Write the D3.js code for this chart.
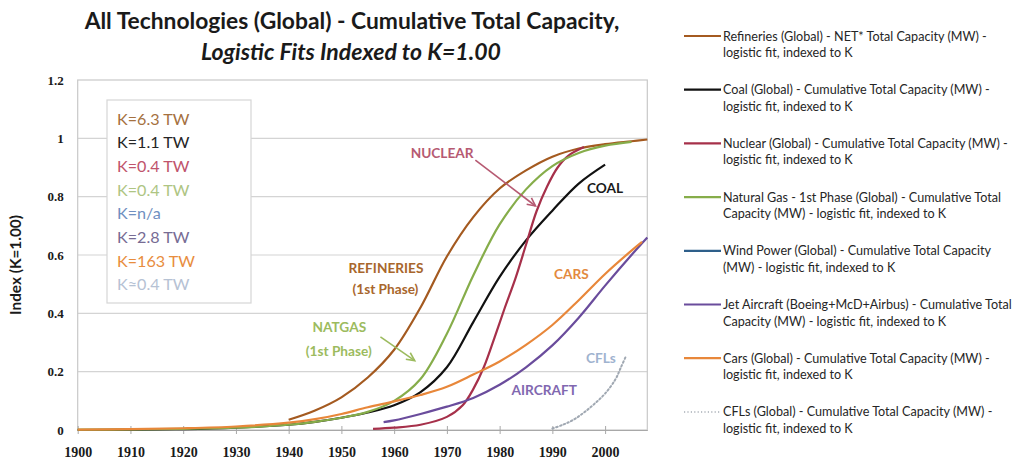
<!DOCTYPE html>
<html><head><meta charset="utf-8">
<script src="https://cdn.jsdelivr.net/npm/d3@7/dist/d3.min.js"></script>
<style>html,body{margin:0;padding:0;background:#fff;}svg{display:block;}</style>
</head><body>
<svg id="chart" width="1015" height="459"></svg>
<script>
// ---------- DATA ----------
const refineriesYears  = [1940,1945,1950,1955,1960,1965,1970,1975,1980,1985,1990,1995,2000,2005,2008];
const refineriesValues = [0.035,0.067,0.112,0.18,0.275,0.42,0.595,0.73,0.828,0.89,0.937,0.965,0.98,0.99,0.996];

const coalYears  = [1900,1910,1920,1930,1940,1945,1950,1955,1960,1965,1970,1975,1980,1985,1990,1995,2000];
const coalValues = [0.0,0.001,0.003,0.008,0.018,0.028,0.042,0.06,0.085,0.13,0.215,0.37,0.525,0.65,0.752,0.845,0.91];

const nuclearYears  = [1956,1960,1965,1970,1973,1975,1977,1979,1981,1983,1985,1987,1989,1991,1993,1996];
const nuclearValues = [0.004,0.008,0.018,0.045,0.085,0.14,0.215,0.315,0.42,0.52,0.635,0.75,0.835,0.9,0.94,0.97];

const natgasYears  = [1900,1910,1920,1930,1940,1945,1950,1955,1960,1965,1970,1975,1980,1985,1990,1995,2000,2005];
const natgasValues = [0.001,0.002,0.004,0.008,0.018,0.028,0.042,0.062,0.1,0.175,0.33,0.53,0.705,0.825,0.905,0.95,0.975,0.988];

const aircraftYears  = [1958,1960,1965,1970,1975,1980,1985,1990,1995,2000,2005,2008];
const aircraftValues = [0.027,0.033,0.055,0.08,0.11,0.155,0.215,0.29,0.385,0.495,0.6,0.66];

const carsYears  = [1900,1910,1920,1930,1940,1945,1950,1955,1960,1965,1970,1975,1980,1985,1990,1995,2000,2005,2007];
const carsValues = [0.001,0.003,0.006,0.012,0.025,0.037,0.055,0.078,0.098,0.12,0.148,0.19,0.235,0.292,0.36,0.445,0.535,0.615,0.645];

const cflYears  = [1990,1992,1994,1996,1998,2000,2002,2003,2004];
const cflValues = [0.005,0.018,0.035,0.06,0.09,0.125,0.175,0.215,0.255];

const yTicks = [0,0.2,0.4,0.6,0.8,1,1.2];
const yTickLabels = ["0","0.2","0.4","0.6","0.8","1","1.2"];
const xTicks = [1900,1910,1920,1930,1940,1950,1960,1970,1980,1990,2000];

const seriesNames = ["Refineries","Coal","Nuclear","Natural Gas","Wind Power","Jet Aircraft","Cars","CFLs"];
const seriesColors = ["#a45a20","#111111","#a6304a","#86ad4a","#2e5f8a","#6a4c9c","#e8873a","#a0a8b2"];
const legendLine1 = [
  "Refineries (Global) - NET* Total Capacity (MW) -",
  "Coal (Global) - Cumulative Total Capacity (MW) -",
  "Nuclear (Global) - Cumulative Total Capacity (MW) -",
  "Natural Gas - 1st Phase (Global) - Cumulative Total",
  "Wind Power (Global) - Cumulative Total Capacity",
  "Jet Aircraft (Boeing+McD+Airbus) - Cumulative Total",
  "Cars (Global) - Cumulative Total Capacity (MW) -",
  "CFLs (Global) - Cumulative Total Capacity (MW) -"
];
const legendLine2 = [
  "logistic fit, indexed to K",
  "logistic fit, indexed to K",
  "logistic fit, indexed to K",
  "Capacity (MW) - logistic fit, indexed to K",
  "(MW) - logistic fit, indexed to K",
  "Capacity (MW) - logistic fit, indexed to K",
  "logistic fit, indexed to K",
  "logistic fit, indexed to K"
];
const kLabels = ["K=6.3 TW","K=1.1 TW","K=0.4 TW","K=0.4 TW","K=n/a","K=2.8 TW","K=163 TW","K\u22480.4 TW"];
const kColors = ["#a5713f","#262626","#c0546c","#aec583","#6f8fc0","#776c94","#e88d3e","#b6c2d4"];

// ---------- LAYOUT ----------
const svg = d3.select("#chart");
const x = d3.scaleLinear().domain([1900, 2008]).range([77.7, 647.3]);
const y = d3.scaleLinear().domain([0, 1.2]).range([430, 80]);
const calibri = "Lato, 'Open Sans', sans-serif";
const cambria = "'Liberation Serif', 'DejaVu Serif', serif";

function fit(sel, width) {
  const w = sel.node().getComputedTextLength();
  const fs = parseFloat(sel.attr("font-size"));
  sel.attr("font-size", (fs * width / w).toFixed(2));
  return sel;
}

// Title
fit(svg.append("text").attr("x", 352).attr("y", 20).attr("text-anchor", "middle")
  .attr("dominant-baseline", "central").attr("font-family", calibri).attr("font-weight", "bold")
  .attr("font-size", 20).attr("fill", "#1a1a1a")
  .text("All Technologies (Global) - Cumulative Total Capacity,"), 535);
fit(svg.append("text").attr("x", 351).attr("y", 51).attr("text-anchor", "middle")
  .attr("dominant-baseline", "central").attr("font-family", calibri).attr("font-weight", "bold")
  .attr("font-style", "italic").attr("font-size", 20).attr("fill", "#1a1a1a")
  .text("Logistic Fits Indexed to K=1.00"), 300);

// Gridlines
svg.append("g").selectAll("line").data(yTicks.filter(d => d > 0 && d < 1.2)).join("line")
  .attr("x1", x.range()[0]).attr("x2", x.range()[1])
  .attr("y1", d => y(d)).attr("y2", d => y(d))
  .attr("stroke", "#d4d4d4").attr("stroke-width", 1.2);

// Plot border
svg.append("rect").attr("x", x.range()[0]).attr("y", y(1.2))
  .attr("width", x.range()[1] - x.range()[0]).attr("height", y(0) - y(1.2))
  .attr("fill", "none").attr("stroke", "#c8c8c8").attr("stroke-width", 1.2);

// X axis
const xAxis = d3.axisBottom(x).tickValues(xTicks).tickFormat(d3.format("d")).tickSizeInner(4).tickSizeOuter(0);
const gx = svg.append("g").attr("transform", `translate(0,${y(0)})`).call(xAxis);
gx.select(".domain").attr("stroke", "#a8a8a8").attr("stroke-width", 1.2);
gx.selectAll(".tick line").attr("stroke", "#a8a8a8").attr("y1", -4).attr("y2", 4);
gx.selectAll(".tick text").attr("y", 22).attr("dy", "0.35em").attr("font-family", cambria)
  .attr("font-weight", "bold").attr("font-size", 14).attr("fill", "#1a1a1a");

// Y axis labels
const yAxis = d3.axisLeft(y).tickValues(yTicks).tickFormat((d, i) => yTickLabels[i]).tickSize(0);
const gy = svg.append("g").attr("transform", `translate(${x.range()[0]},0)`).call(yAxis);
gy.select(".domain").remove();
gy.selectAll(".tick text").attr("x", -14).attr("font-family", cambria).attr("font-weight", "bold")
  .attr("font-size", 13).attr("fill", "#1a1a1a");

// Y axis title
fit(svg.append("text").attr("transform", "translate(15,265) rotate(-90)").attr("text-anchor", "middle")
  .attr("dominant-baseline", "central").attr("font-family", calibri).attr("font-weight", "bold")
  .attr("font-size", 11).attr("fill", "#1a1a1a").text("Index (K=1.00)"), 100);

// Series
const seriesYears = [refineriesYears, coalYears, nuclearYears, natgasYears, [], aircraftYears, carsYears, cflYears];
const seriesValues = [refineriesValues, coalValues, nuclearValues, natgasValues, [], aircraftValues, carsValues, cflValues];
const line = d3.line().x(d => x(d[0])).y(d => y(d[1])).curve(d3.curveCatmullRom.alpha(0.5));
const gs = svg.append("g");
seriesNames.forEach((name, i) => {
  const pts = seriesYears[i].map((yr, j) => [yr, seriesValues[i][j]]);
  if (!pts.length) return;
  const p = gs.append("path").datum(pts).attr("d", line).attr("fill", "none")
    .attr("stroke", seriesColors[i]).attr("stroke-width", 2.2).attr("stroke-linejoin", "round");
  if (name === "CFLs") p.attr("stroke-dasharray", "1.6,2.4").attr("stroke-width", 2).attr("stroke-linecap", "round");
});

// K box
svg.append("rect").attr("x", 107).attr("y", 100).attr("width", 144).attr("height", 203)
  .attr("fill", "#fff").attr("stroke", "#d6d6d6").attr("stroke-width", 1.2);
const kText = svg.append("g").selectAll("text").data(kLabels).join("text")
  .attr("x", 117).attr("y", (d, i) => 118 + i * 23.7).attr("dominant-baseline", "central")
  .attr("font-family", calibri).attr("font-size", 16).attr("fill", (d, i) => kColors[i]).text(d => d);
const kw = kText.filter((d, i) => i === 0).node().getComputedTextLength();
kText.attr("font-size", (16 * 72.5 / kw).toFixed(2));

// Annotations (positioned in data space), one common font size
const probe = svg.append("text").attr("font-family", calibri).attr("font-weight", "bold")
  .attr("font-size", 13).text("REFINERIES");
const annFs = 13 * 75 / probe.node().getComputedTextLength();
probe.remove();
function label(txt, yr, v, color) {
  return svg.append("text").attr("x", x(yr)).attr("y", y(v)).attr("text-anchor", "middle")
    .attr("dominant-baseline", "central").attr("font-family", calibri).attr("font-weight", "bold")
    .attr("font-size", annFs.toFixed(2)).attr("fill", color).text(txt);
}
function arrow(y0, v0, y1, v1, color) {
  const x0 = x(y0), yy0 = y(v0), x1 = x(y1), yy1 = y(v1);
  svg.append("line").attr("x1", x0).attr("y1", yy0).attr("x2", x1).attr("y2", yy1)
    .attr("stroke", color).attr("stroke-width", 1.6);
  const ang = Math.atan2(yy1 - yy0, x1 - x0), L = 9, a = 0.45;
  const p1 = [x1 - L * Math.cos(ang - a), yy1 - L * Math.sin(ang - a)];
  const p2 = [x1 - L * Math.cos(ang + a), yy1 - L * Math.sin(ang + a)];
  svg.append("path").attr("d", `M${p1}L${x1},${yy1}L${p2}`).attr("fill", "none")
    .attr("stroke", color).attr("stroke-width", 1.6).attr("stroke-linejoin", "miter");
}
label("NUCLEAR", 1969.1, 0.95, "#b65a72");
arrow(1975.4, 0.925, 1986.8, 0.768, "#b65a72");
label("COAL", 2000.0, 0.83, "#1a1a1a");
label("REFINERIES", 1958.45, 0.555, "#a8662c");
label("(1st Phase)", 1958.35, 0.483, "#a8662c");
label("CARS", 1993.6, 0.535, "#e38a3f");
label("NATGAS", 1949.6, 0.352, "#9cbb5e");
label("(1st Phase)", 1949.5, 0.272, "#9cbb5e");
arrow(1957.4, 0.319, 1963.9, 0.238, "#9cbb5e");
label("AIRCRAFT", 1988.45, 0.137, "#8168b0");
label("CFLs", 1999.2, 0.247, "#9fb3cf");

// Right legend
const lg = svg.append("g");
const legY = i => 36 + i * 53.7;
seriesNames.forEach((name, i) => {
  const l = lg.append("line").attr("x1", 684).attr("x2", 721).attr("y1", legY(i)).attr("y2", legY(i))
    .attr("stroke", seriesColors[i]).attr("stroke-width", 2.2);
  if (name === "CFLs") l.attr("stroke-dasharray", "1.2,2.2").attr("stroke-width", 1.5).attr("stroke", "#a8aeb6");
});
const lt1 = lg.selectAll("text.l1").data(legendLine1).join("text").attr("class", "l1")
  .attr("x", 723).attr("y", (d, i) => legY(i)).attr("dominant-baseline", "central")
  .attr("font-family", calibri).attr("font-size", 12).attr("fill", "#262626").text(d => d);
const lt2 = lg.selectAll("text.l2").data(legendLine2).join("text").attr("class", "l2")
  .attr("x", 723).attr("y", (d, i) => legY(i) + 16.5).attr("dominant-baseline", "central")
  .attr("font-family", calibri).attr("font-size", 12).attr("fill", "#262626").text(d => d);
const refW = lt1.filter((d, i) => i === 5).node().getComputedTextLength();
const lfs = (12 * 289 / refW).toFixed(2);
lt1.attr("font-size", lfs); lt2.attr("font-size", lfs);
</script>
</body></html>
